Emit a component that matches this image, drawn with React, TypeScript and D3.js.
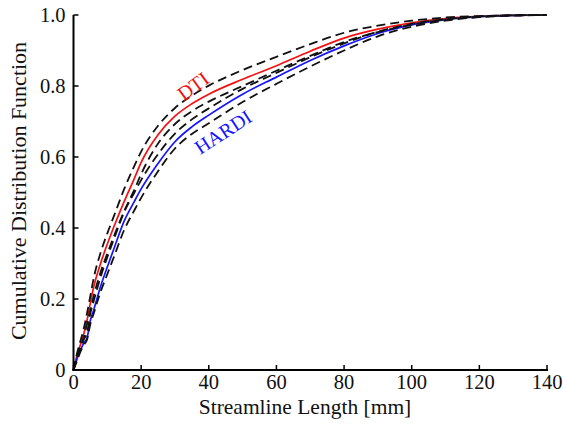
import React from "react";
import * as d3 from "d3";

const lengths = [0, 1, 2, 3, 4, 5, 6, 8, 10, 12, 15, 18, 20, 25, 30, 35, 40, 50, 60, 70, 80, 90, 100, 110, 120, 130, 140];

const dti = [0, 0.04, 0.07, 0.10, 0.14, 0.19, 0.235, 0.30, 0.355, 0.405, 0.475, 0.54, 0.585, 0.663, 0.715, 0.75, 0.777, 0.819, 0.857, 0.898, 0.935, 0.960, 0.978, 0.990, 0.996, 0.999, 1.0];
const dtiUpper = [0, 0.045, 0.08, 0.115, 0.16, 0.21, 0.26, 0.33, 0.385, 0.435, 0.51, 0.575, 0.615, 0.688, 0.738, 0.773, 0.801, 0.845, 0.882, 0.918, 0.950, 0.970, 0.984, 0.993, 0.997, 0.999, 1.0];
const dtiLower = [0, 0.035, 0.065, 0.09, 0.13, 0.17, 0.21, 0.275, 0.328, 0.378, 0.448, 0.508, 0.552, 0.638, 0.693, 0.729, 0.756, 0.800, 0.843, 0.885, 0.924, 0.952, 0.973, 0.987, 0.995, 0.999, 1.0];

const hardi = [0, 0.03, 0.055, 0.075, 0.09, 0.14, 0.17, 0.235, 0.29, 0.343, 0.42, 0.475, 0.51, 0.582, 0.643, 0.685, 0.718, 0.777, 0.825, 0.872, 0.913, 0.948, 0.972, 0.987, 0.995, 0.999, 1.0];
const hardiUpper = [0, 0.035, 0.06, 0.085, 0.105, 0.16, 0.195, 0.262, 0.318, 0.37, 0.445, 0.50, 0.535, 0.608, 0.666, 0.706, 0.737, 0.792, 0.837, 0.881, 0.920, 0.953, 0.975, 0.988, 0.996, 0.999, 1.0];
const hardiLower = [0, 0.025, 0.05, 0.07, 0.085, 0.13, 0.16, 0.22, 0.27, 0.32, 0.395, 0.45, 0.485, 0.56, 0.624, 0.665, 0.695, 0.755, 0.806, 0.855, 0.900, 0.940, 0.967, 0.984, 0.994, 0.998, 1.0];

const xTicks = [0, 20, 40, 60, 80, 100, 120, 140];
const yTicks = [0, 0.2, 0.4, 0.6, 0.8, 1.0];
const yTickLabels = ["0", "0.2", "0.4", "0.6", "0.8", "1.0"];

const W = 563;
const H = 429;
const FONT = "'Liberation Serif', 'Times New Roman', serif";

export default function App() {
  const x = d3.scaleLinear().domain([0, 140]).range([73.5, 547]);
  const y = d3.scaleLinear().domain([0, 1]).range([370, 15]);

  const line = (vals: number[]) =>
    d3
      .line<number>()
      .x((_, i) => x(lengths[i]))
      .y((v) => y(v))
      .curve(d3.curveMonotoneX)(vals) as string;

  const dashed = [dtiUpper, dtiLower, hardiUpper, hardiLower];

  return (
    <svg
      width={W}
      height={H}
      style={{ position: "absolute", left: 0, top: 0, background: "#fff" }}
      fontFamily={FONT}
    >
      <rect x={0} y={0} width={W} height={H} fill="#fff" />
      {/* solid lines */}
      <path d={line(dti)} fill="none" stroke="#f21010" strokeWidth={1.7} />
      <path d={line(hardi)} fill="none" stroke="#1414ff" strokeWidth={1.7} />
      {/* dashed bounds */}
      {dashed.map((d, i) => (
        <path
          key={i}
          d={line(d)}
          fill="none"
          stroke="#111"
          strokeWidth={1.8}
          strokeDasharray="9,5"
        />
      ))}

      {/* axes */}
      <line x1={x(0)} x2={x(0)} y1={y(1)} y2={y(0) + 1} stroke="#000" strokeWidth={2} />
      <line x1={x(0) - 1} x2={x(140) + 1} y1={y(0)} y2={y(0)} stroke="#000" strokeWidth={2} />
      {yTicks.map((t, i) => (
        <g key={"y" + i}>
          <line x1={x(0)} x2={x(0) + 5} y1={y(t)} y2={y(t)} stroke="#000" strokeWidth={1.5} />
          <text
            x={x(0) - 8}
            y={y(t)}
            dy="0.35em"
            textAnchor="end"
            fontSize={20.5}
            fill="#111"
          >
            {yTickLabels[i]}
          </text>
        </g>
      ))}
      {xTicks.map((t, i) => (
        <g key={"x" + i}>
          <line x1={x(t)} x2={x(t)} y1={y(0)} y2={y(0) - 5} stroke="#000" strokeWidth={1.5} />
          <text x={x(t)} y={389} textAnchor="middle" fontSize={20.5} fill="#111">
            {t}
          </text>
        </g>
      ))}

      <text x={305} y={414} textAnchor="middle" fontSize={21.5} fill="#111">
        Streamline Length [mm]
      </text>
      <text
        transform={`translate(26, 191) rotate(-90)`}
        textAnchor="middle"
        fontSize={22}
        fill="#111"
      >
        Cumulative Distribution Function
      </text>

      <text
        transform={`translate(193, 86) rotate(-36)`}
        textAnchor="middle"
        dy="0.35em"
        fontSize={20}
        fill="#f21010"
      >
        DTI
      </text>
      <text
        transform={`translate(223, 132) rotate(-33)`}
        textAnchor="middle"
        dy="0.35em"
        fontSize={20}
        fill="#1414ff"
      >
        HARDI
      </text>
    </svg>
  );
}
